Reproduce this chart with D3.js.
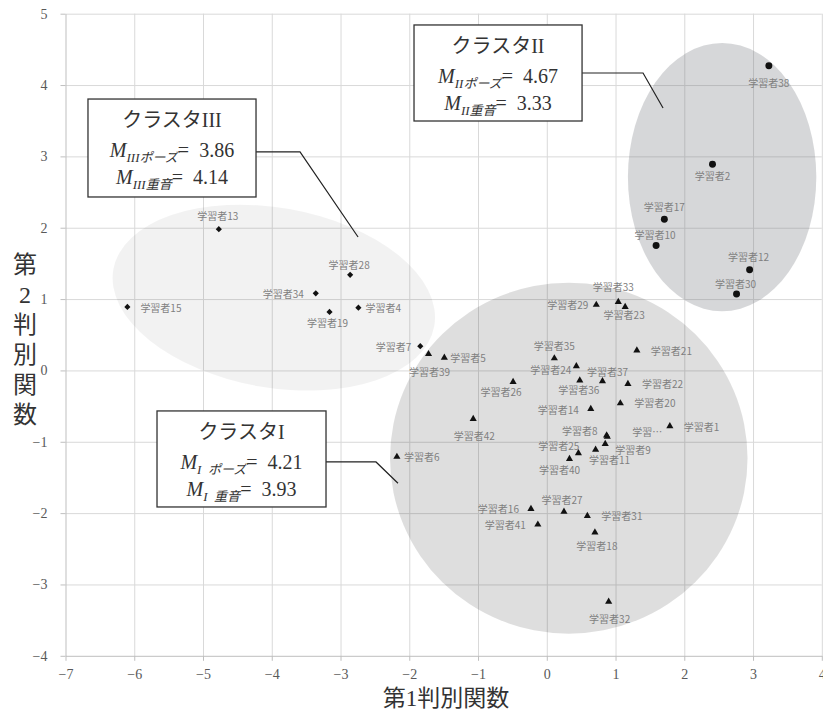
<!DOCTYPE html>
<html>
<head>
<meta charset="utf-8">
<script src="https://cdn.jsdelivr.net/npm/d3@7"></script>
<style>
body { margin: 0; background: #fff; }
svg text { font-family: "Liberation Serif", "Noto Sans CJK JP", serif; }
.pt-label { font-family: "Noto Sans CJK JP", sans-serif; font-size: 10px; fill: #7f7f7f; }
.axis text { font-family: "Liberation Serif", serif; font-size: 14px; fill: #595959; }
.axis path, .axis line { stroke: #bfbfbf; }
.grid line { stroke: #d9d9d9; }
.grid path { display: none; }
</style>
</head>
<body>
<script>
const width = 823;
const height = 713;

// クラスタI (▲)
const clusterIIds = [1, 3, 5, 6, 8, 9, 11, 14, 16, 18, 20, 21, 22, 23, 24, 25, 26, 27, 29, 31, 32, 33, 35, 36, 37, 39, 40, 41, 42];
const clusterIX = [1.79, 0.88, -1.49, -2.18, 0.87, 0.85, 0.71, 0.64, -0.23, 0.70, 1.07, 1.31, 1.18, 1.14, 0.43, 0.46, -0.49, 0.25, 0.72, 0.59, 0.90, 1.04, 0.11, 0.48, 0.81, -1.72, 0.33, -0.13, -1.07];
const clusterIY = [-0.78, -0.93, 0.18, -1.21, -0.91, -1.03, -1.11, -0.54, -1.94, -2.27, -0.46, 0.28, -0.19, 0.89, 0.06, -1.16, -0.16, -1.98, 0.92, -2.04, -3.24, 0.96, 0.17, -0.14, -0.15, 0.23, -1.24, -2.16, -0.68];

// クラスタII (●)
const clusterIIIds = [2, 10, 12, 17, 30, 38];
const clusterIIX = [2.41, 1.59, 2.95, 1.71, 2.76, 3.23];
const clusterIIY = [2.89, 1.75, 1.41, 2.12, 1.07, 4.27];

// クラスタIII (◆)
const clusterIIIIds = [4, 7, 13, 15, 19, 28, 34];
const clusterIIIX = [-2.74, -1.84, -4.77, -6.10, -3.16, -2.86, -3.36];
const clusterIIIY = [0.88, 0.34, 1.98, 0.89, 0.82, 1.34, 1.08];

// cluster means shown in the call-outs
const clusterNames = ['クラスタI', 'クラスタII', 'クラスタIII'];
const clusterSubs = ['I\u2002', 'II', 'III'];
const poseMeans = ['4.21', '4.67', '3.86'];
const juuonMeans = ['3.93', '3.33', '4.14'];

const xTickValues = [-7, -6, -5, -4, -3, -2, -1, 0, 1, 2, 3, 4];
const yTickValues = [-4, -3, -2, -1, 0, 1, 2, 3, 4, 5];

// label placement: [dx, dy, anchor]
const labelPos = {
    1: [14, 0, 'start'], 3: [25, -5, 'start'], 5: [6, 0, 'start'], 6: [7, 0, 'start'],
    8: [-9, -5, 'end'], 9: [10, 6, 'start'], 11: [14, 10, 'middle'], 14: [-12, 1, 'end'],
    16: [-12, 0, 'end'], 18: [2, 13, 'middle'], 20: [14, -1, 'start'], 21: [14, 0, 'start'],
    22: [14, 0, 'start'], 23: [-1, 8, 'middle'], 24: [-5, 3, 'end'], 25: [1, -8, 'end'],
    26: [-12, 10, 'middle'], 27: [-2, -12, 'middle'], 29: [-8, 0, 'end'], 31: [14, 0, 'start'],
    32: [1, 17, 'middle'], 33: [-5, -15, 'middle'], 35: [0, -13, 'middle'], 36: [-1, 9, 'middle'],
    37: [5, -10, 'middle'], 39: [1, 17, 'middle'], 40: [-10, 11, 'middle'], 41: [-12, 0, 'end'],
    42: [1, 17, 'middle'],
    4: [7, 0, 'start'], 7: [-9, 0, 'end'], 13: [-1, -14, 'middle'], 15: [13, 1, 'start'],
    19: [-2, 11, 'middle'], 28: [-1, -10, 'middle'], 34: [-12, 0, 'end'],
    2: [0, 11, 'middle'], 10: [-1, -11, 'middle'], 12: [-1, -13, 'middle'], 17: [0, -13, 'middle'],
    30: [-1, -11, 'middle'], 38: [0, 17, 'middle']
};
const truncated = new Set([3]);

const x = d3.scaleLinear().domain([-7, 4]).range([65.5, 821.8]);
const y = d3.scaleLinear().domain([-4, 5]).range([655.8, 13.7]);

const svg = d3.select('body')
    .append('svg')
    .attr('width', width)
    .attr('height', height);

// grid
svg.append('g')
    .attr('class', 'grid')
    .attr('transform', `translate(0, ${y(-4)})`)
    .call(d3.axisBottom(x).tickValues(xTickValues.slice(1)).tickSize(-(y(-4) - y(5))).tickFormat(''));
svg.append('g')
    .attr('class', 'grid')
    .attr('transform', `translate(${x(-7)}, 0)`)
    .call(d3.axisLeft(y).tickValues(yTickValues.slice(1)).tickSize(-(x(4) - x(-7))).tickFormat(''));

// cluster ellipses (data units)
const ellipses = [
    { cx: 0.32, cy: -1.23, rx: 2.60, ry: 2.46, rot: 0, fill: '#000', op: 0.13 },
    { cx: 2.55, cy: 2.71, rx: 1.37, ry: 1.88, rot: 0, fill: '#6a6f78', op: 0.28 },
    { cx: -3.97, cy: 1.02, rx: 2.37, ry: 1.26, rot: 10, fill: '#000', op: 0.05 }
];
svg.append('g').selectAll('ellipse')
    .data(ellipses)
    .enter()
    .append('ellipse')
        .attr('cx', d => x(d.cx))
        .attr('cy', d => y(d.cy))
        .attr('rx', d => x(d.cx + d.rx) - x(d.cx))
        .attr('ry', d => y(d.cy) - y(d.cy + d.ry))
        .attr('transform', d => `rotate(${d.rot}, ${x(d.cx)}, ${y(d.cy)})`)
        .attr('fill', d => d.fill)
        .attr('fill-opacity', d => d.op);

// axes
svg.append('g')
    .attr('class', 'axis')
    .attr('transform', `translate(0, ${y(-4)})`)
    .call(d3.axisBottom(x).tickValues(xTickValues).tickSize(5).tickSizeOuter(0).tickPadding(8));
svg.append('g')
    .attr('class', 'axis')
    .attr('transform', `translate(${x(-7)}, 0)`)
    .call(d3.axisLeft(y).tickValues(yTickValues).tickSize(5).tickSizeOuter(0).tickPadding(13));

// points
const points = [];
const addCluster = (ids, xs, ys, shape) => ids.forEach((id, i) => points.push({ id, fx: xs[i], fy: ys[i], shape }));
addCluster(clusterIIds, clusterIX, clusterIY, 'tri');
addCluster(clusterIIIds, clusterIIX, clusterIIY, 'circle');
addCluster(clusterIIIIds, clusterIIIX, clusterIIIY, 'diamond');

const symbols = {
    tri: d3.symbol().type(d3.symbolTriangle).size(22),
    circle: d3.symbol().type(d3.symbolCircle).size(38),
    diamond: d3.symbol().type(d3.symbolSquare).size(19)
};

svg.append('g').selectAll('path')
    .data(points)
    .enter()
    .append('path')
        .attr('d', d => symbols[d.shape]())
        .attr('transform', d => `translate(${x(d.fx)}, ${y(d.fy)})` + (d.shape === 'diamond' ? ' rotate(45)' : ''))
        .attr('fill', '#111');

svg.append('g').selectAll('text')
    .data(points)
    .enter()
    .append('text')
        .attr('class', 'pt-label')
        .attr('x', d => x(d.fx) + labelPos[d.id][0])
        .attr('y', d => y(d.fy) + labelPos[d.id][1])
        .attr('text-anchor', d => labelPos[d.id][2])
        .attr('dominant-baseline', 'central')
        .text(d => truncated.has(d.id) ? '学習…' : '学習者' + d.id);

// call-out boxes (data units): [left, top, right, bottom], leader line points
const callouts = [
    { box: [-5.669, -0.568, -3.211, -1.914], leader: [[-3.211, -1.283], [-2.484, -1.283], [-2.164, -1.582]] },
    { box: [-1.931, 4.842, 0.513, 3.496], leader: [[0.513, 4.169], [1.40, 4.169], [1.691, 3.678]] },
    { box: [-6.673, 3.804, -4.229, 2.431], leader: [[-4.229, 3.062], [-3.589, 3.062], [-2.745, 1.870]] }
];

const line = d3.line().x(d => x(d[0])).y(d => y(d[1]));

callouts.forEach((c, i) => {
    const g = svg.append('g');
    const x0 = x(c.box[0]), y0 = y(c.box[1]), x1 = x(c.box[2]), y1 = y(c.box[3]);
    const cx = (x0 + x1) / 2;

    g.append('path')
        .attr('d', line(c.leader))
        .attr('fill', 'none')
        .attr('stroke', '#222')
        .attr('stroke-width', 1.2);

    g.append('rect')
        .attr('x', x0).attr('y', y0)
        .attr('width', x1 - x0).attr('height', y1 - y0)
        .attr('fill', '#fff')
        .attr('stroke', '#333')
        .attr('stroke-width', 1.3);

    g.append('text')
        .attr('x', cx).attr('y', y0 + 28)
        .attr('text-anchor', 'middle')
        .attr('font-size', 20)
        .attr('fill', '#333')
        .text(clusterNames[i]);

    [[poseMeans[i], 'ポーズ'], [juuonMeans[i], '重音']].forEach(([val, name], k) => {
        const t = g.append('text')
            .attr('x', cx).attr('y', y0 + 58 + k * 27)
            .attr('text-anchor', 'middle')
            .attr('font-size', 20)
            .attr('fill', '#333');
        t.append('tspan').attr('font-style', 'italic').text('M');
        t.append('tspan').attr('font-style', 'italic').attr('font-size', 13).attr('dy', 5).text(clusterSubs[i] + name);
        t.append('tspan').attr('dy', -5).text('=\u2002' + val);
    });
});

// axis titles
svg.append('text')
    .attr('x', 446).attr('y', 706)
    .attr('text-anchor', 'middle')
    .attr('font-size', 23)
    .attr('fill', '#333')
    .text('第1判別関数');

svg.append('g').selectAll('text')
    .data(['第', '2', '判', '別', '関', '数'])
    .enter()
    .append('text')
        .attr('x', 25)
        .attr('y', (d, i) => 265 + i * 30)
        .attr('text-anchor', 'middle')
        .attr('dominant-baseline', 'central')
        .attr('font-size', 24)
        .attr('fill', '#333')
        .text(d => d);
</script>
</body>
</html>
